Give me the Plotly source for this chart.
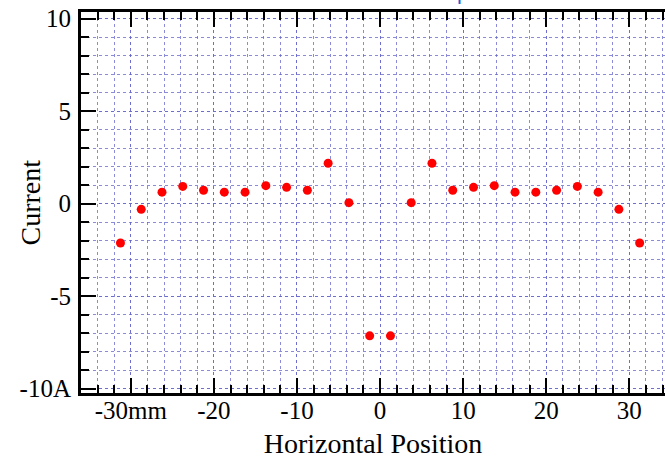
import plotly.graph_objects as go

# Data
positions_mm = [-31.25, -28.75, -26.25, -23.75, -21.25, -18.75, -16.25, -13.75,
                -11.25, -8.75, -6.25, -3.75, -1.25, 1.25, 3.75, 6.25, 8.75,
                11.25, 13.75, 16.25, 18.75, 21.25, 23.75, 26.25, 28.75, 31.25]
current_a = [-2.13, -0.31, 0.62, 0.93, 0.72, 0.62, 0.62, 0.97, 0.88, 0.72,
             2.18, 0.05, -7.15, -7.15, 0.05, 2.18, 0.72, 0.88, 0.97, 0.62,
             0.62, 0.72, 0.93, 0.62, -0.31, -2.13]
x_tickvals = [-30, -20, -10, 0, 10, 20, 30]
x_ticktext = ["-30mm", "-20", "-10", "0", "10", "20", "30"]
y_tickvals = [10, 5, 0, -5, -10]
y_ticktext = ["10", "5", "0", "-5", "-10A"]

FONT = "Liberation Serif"
GRID = "rgba(100,100,205,0.75)"

fig = go.Figure()
fig.add_trace(go.Scatter(
    x=positions_mm, y=current_a, mode="markers",
    marker=dict(color="#ff0000", size=9, line=dict(width=0)),
    showlegend=False,
))

fig.update_layout(
    width=665, height=463,
    margin=dict(l=81, r=0, t=12, b=70, autoexpand=False),
    paper_bgcolor="white", plot_bgcolor="white",
    font=dict(family=FONT, color="black", size=25),
)

fig.update_xaxes(
    range=[-36, 34.3], automargin=False,
    tickmode="array", tickvals=x_tickvals, ticktext=x_ticktext,
    ticks="inside", ticklen=15, tickwidth=2, tickcolor="black",
    showline=True, linewidth=3, linecolor="black", mirror="allticks",
    showgrid=True, gridcolor=GRID, gridwidth=1, griddash="3px,3px",
    zeroline=False,
    tickfont=dict(family=FONT, size=25, color="black"),
    ticklabelstandoff=-7,
    minor=dict(dtick=2, tick0=0, ticks="inside", ticklen=8, tickwidth=2,
               tickcolor="black", showgrid=True, gridcolor=GRID,
               gridwidth=1, griddash="3px,3px"),
    title=dict(text="Horizontal Position", font=dict(family=FONT, size=28, color="black"),
               standoff=11),
)

fig.update_yaxes(
    range=[-10.24, 10.36], automargin=False,
    tickmode="array", tickvals=y_tickvals, ticktext=y_ticktext,
    ticks="inside", ticklen=15, tickwidth=2, tickcolor="black",
    showline=True, linewidth=3, linecolor="black", mirror=False,
    showgrid=True, gridcolor=GRID, gridwidth=1, griddash="3px,3px",
    zeroline=False,
    tickfont=dict(family=FONT, size=25, color="black"),
    ticklabelstandoff=2,
    minor=dict(dtick=1, tick0=0, ticks="inside", ticklen=8, tickwidth=2,
               tickcolor="black", showgrid=True, gridcolor=GRID,
               gridwidth=1, griddash="3px,3px"),
)

# y-axis title placed as in the reference (close to the tick labels)
fig.add_annotation(
    text="Current", textangle=-90, xref="paper", x=(30 - 81) / 584, xanchor="center",
    yref="paper", y=0.5, yanchor="middle", showarrow=False,
    font=dict(family=FONT, size=28, color="black"),
)

# clipped chart title peeking in at the very top
fig.add_annotation(
    text="p", xref="x", x=10, yref="paper", y=1.0155, yanchor="bottom",
    showarrow=False, font=dict(family="Liberation Sans", size=22, color="#1f5fd0"),
)

fig.write_html("out.html")
